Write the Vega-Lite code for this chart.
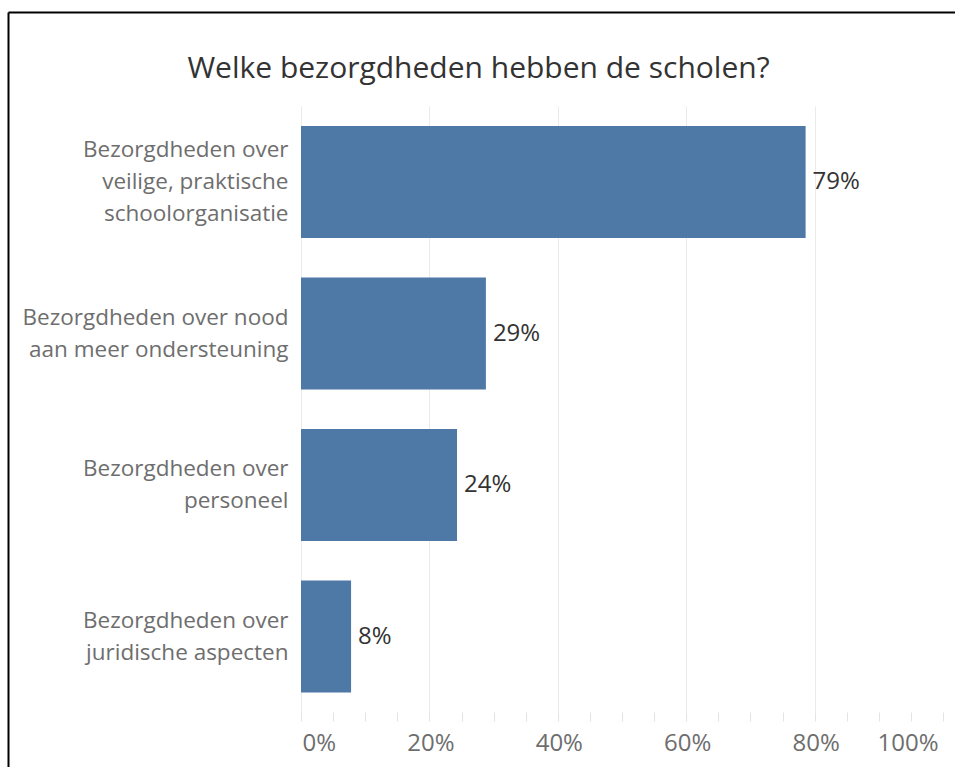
{
  "$schema": "https://vega.github.io/schema/vega-lite/v6.json",
  "width": 947,
  "height": 755,
  "autosize": {"type": "none"},
  "padding": {"left": 8, "top": 12, "right": 0, "bottom": 0},
  "background": "white",
  "config": {
    "view": {"stroke": null},
    "font": "Open Sans"
  },
  "title": {
    "text": "Welke bezorgdheden hebben de scholen?",
    "fontSize": 30,
    "color": "#333333",
    "fontWeight": 500,
    "font": "Open Sans",
    "anchor": "middle",
    "frame": "group",
    "baseline": "alphabetic",
    "offset": -97,
    "dx": -3
  },
  "data": {
    "values": [
      {"cat": "Bezorgdheden over|veilige, praktische|schoolorganisatie", "value": 0.786},
      {"cat": "Bezorgdheden over nood|aan meer ondersteuning", "value": 0.288},
      {"cat": "Bezorgdheden over|personeel", "value": 0.243},
      {"cat": "Bezorgdheden over|juridische aspecten", "value": 0.078}
    ]
  },
  "encoding": {
    "y": {
      "field": "cat",
      "type": "nominal",
      "sort": null,
      "scale": {"paddingInner": 0.26, "paddingOuter": 0.62175, "align": 0.6051},
      "axis": {
        "orient": "left",
        "offset": -293,
        "title": null,
        "domain": false,
        "ticks": false,
        "grid": false,
        "labelPadding": 13,
        "labelFontSize": 22.5,
        "labelColor": "#6e6e6e",
        "labelFont": "Open Sans",
        "labelLineHeight": 32,
        "labelLimit": 400,
        "labelOffset": {"condition": {"test": "length(split(datum.value, '|')) == 3", "value": -32}, "value": -16},
        "labelExpr": "split(datum.label, '|')"
      }
    }
  },
  "layer": [
    {
      "mark": {"type": "bar", "color": "#4e79a7"},
      "encoding": {
        "x": {
          "field": "value",
          "type": "quantitative",
          "scale": {"domain": [-0.45639, 1.01869], "nice": false, "zero": false},
          "axis": {
            "orient": "bottom",
            "offset": -55,
            "title": null,
            "domain": false,
            "grid": false,
            "values": [0, 0.05, 0.1, 0.15, 0.2, 0.25, 0.3, 0.35, 0.4, 0.45, 0.5, 0.55, 0.6, 0.65, 0.7, 0.75, 0.8, 0.85, 0.9, 0.95, 1],
            "labelExpr": "round(datum.value * 100) % 20 == 0 ? format(datum.value, '.0%') : ''",
            "labelAlign": {"condition": [{"test": "datum.value <= 0.001", "value": "left"}, {"test": "datum.value >= 0.999", "value": "right"}], "value": "center"},
            "labelOffset": {"condition": {"test": "datum.value >= 0.999", "value": -5}, "value": 1},
            "labelOverlap": false,
            "labelFlush": false,
            "tickColor": "#e3e3e3",
            "tickSize": 9,
            "labelFontSize": 24,
            "labelColor": "#6e6e6e",
            "labelPadding": 10
          }
        },
        "x2": {"datum": 0}
      }
    },
    {
      "mark": {"type": "text", "align": "left", "baseline": "middle", "dx": 7, "fontSize": 24, "color": "#333333", "font": "Open Sans"},
      "encoding": {
        "x": {
          "field": "value",
          "type": "quantitative",
          "axis": {
            "orient": "top",
            "offset": -700,
            "title": null,
            "values": [0, 0.2, 0.4, 0.6, 0.8],
            "labels": false,
            "domain": false,
            "grid": false,
            "tickSize": 606,
            "tickColor": "#ebebeb",
            "tickWidth": 1
          }
        },
        "text": {"field": "value", "type": "quantitative", "format": ".0%"}
      }
    },
    {
      "mark": {"type": "bar", "opacity": 0},
      "encoding": {
        "x": {
          "field": "value",
          "type": "quantitative",
          "axis": {
            "orient": "top",
            "offset": 0,
            "title": null,
            "labels": false,
            "grid": false,
            "values": [-0.45639],
            "ticks": true,
            "tickSize": -770,
            "tickColor": "#000000",
            "tickWidth": 2,
            "domain": true,
            "domainColor": "#000000",
            "domainWidth": 2
          }
        },
        "x2": {"datum": 0}
      }
    }
  ],
  "resolve": {"axis": {"x": "independent"}}
}
